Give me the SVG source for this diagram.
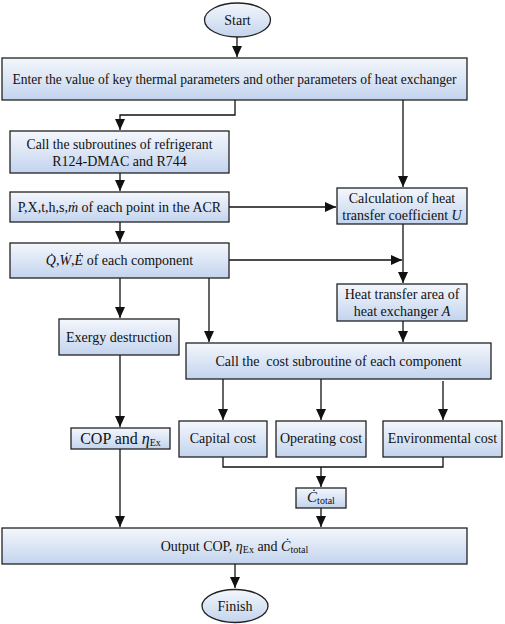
<svg xmlns="http://www.w3.org/2000/svg" width="505" height="624" viewBox="0 0 505 624">
<defs>
<linearGradient id="g" x1="0" y1="0" x2="0" y2="1">
<stop offset="0" stop-color="#f4f7fc"/>
<stop offset="1" stop-color="#c3d4ee"/>
</linearGradient>
<marker id="a" markerWidth="12" markerHeight="12" refX="11" refY="6" orient="auto" markerUnits="userSpaceOnUse">
<path d="M0,1 L11,6 L0,11 Z" fill="#111"/>
</marker>
</defs>
<style>
.n{fill:url(#g);stroke:#222;stroke-width:1.3}
.t{font-family:"Liberation Serif","Times New Roman",serif;font-size:14px;fill:#111;text-anchor:middle}
.i{font-style:italic}
.s{font-size:10px}
.c{fill:none;stroke:#111;stroke-width:1.3}
</style>
<rect width="505" height="624" fill="#fff"/>
<g id="connectors">
<path class="c" d="M237,37 V57" marker-end="url(#a)"/>
<path class="c" d="M235,100 V115 H120 V130" marker-end="url(#a)"/>
<path class="c" d="M403,100 V187" marker-end="url(#a)"/>
<path class="c" d="M120,173 V191" marker-end="url(#a)"/>
<path class="c" d="M229,207 H336" marker-end="url(#a)"/>
<path class="c" d="M120,222 V242" marker-end="url(#a)"/>
<path class="c" d="M229,260 H402" marker-end="url(#a)"/>
<path class="c" d="M403,224 V283" marker-end="url(#a)"/>
<path class="c" d="M120,278 V318" marker-end="url(#a)"/>
<path class="c" d="M209,278 V342" marker-end="url(#a)"/>
<path class="c" d="M403,321 V342" marker-end="url(#a)"/>
<path class="c" d="M223,379 V420" marker-end="url(#a)"/>
<path class="c" d="M321,379 V420" marker-end="url(#a)"/>
<path class="c" d="M443,381 V420" marker-end="url(#a)"/>
<path class="c" d="M120,355 V427" marker-end="url(#a)"/>
<path class="c" d="M120,449 V527" marker-end="url(#a)"/>
<path class="c" d="M223,457 V467 H443 V457 M321,467 V487" marker-end="url(#a)"/>
<path class="c" d="M321,508 V527" marker-end="url(#a)"/>
<path class="c" d="M235,564 V588" marker-end="url(#a)"/>
</g>
<g id="start">
<ellipse class="n" cx="237.5" cy="20" rx="33" ry="17"/>
<text class="t" x="237.5" y="25">Start</text>
</g>
<g id="enter">
<rect class="n" x="2" y="58" width="465" height="42"/>
<text class="t" x="234.5" y="84" textLength="444" lengthAdjust="spacingAndGlyphs">Enter the value of key thermal parameters and other parameters of heat exchanger</text>
</g>
<g id="subroutines">
<rect class="n" x="10" y="131" width="219" height="42"/>
<text class="t" x="119.5" y="149" textLength="186" lengthAdjust="spacingAndGlyphs">Call the subroutines of refrigerant</text>
<text class="t" x="119.5" y="166">R124-DMAC and R744</text>
</g>
<g id="points">
<rect class="n" x="10" y="192" width="219" height="30"/>
<text class="t" x="119.5" y="212">P,X,t,h,s,<tspan class="i">ṁ</tspan> of each point in the ACR</text>
</g>
<g id="calcU">
<rect class="n" x="337" y="188" width="130" height="36"/>
<text class="t" x="402" y="203">Calculation of heat</text>
<text class="t" x="402" y="220">transfer coefficient <tspan class="i">U</tspan></text>
</g>
<g id="qwe">
<rect class="n" x="10" y="243" width="219" height="35"/>
<text class="t" x="119.5" y="265"><tspan class="i">Q̇</tspan>,<tspan class="i">Ẇ</tspan>,<tspan class="i">Ė</tspan> of each component</text>
</g>
<g id="area">
<rect class="n" x="337" y="284" width="130" height="37"/>
<text class="t" x="402" y="299">Heat transfer area of</text>
<text class="t" x="402" y="316">heat exchanger <tspan class="i">A</tspan></text>
</g>
<g id="exergy">
<rect class="n" x="59" y="319" width="120" height="36"/>
<text class="t" x="119" y="342">Exergy destruction</text>
</g>
<g id="cost">
<rect class="n" x="186" y="343" width="305" height="36"/>
<text class="t" x="338.5" y="366">Call the&#160; cost subroutine of each component</text>
</g>
<g id="cop">
<rect class="n" x="71" y="428" width="99" height="21"/>
<text class="t" x="120.5" y="444" style="font-size:16px">COP and <tspan class="i">η</tspan><tspan class="s" dy="2">Ex</tspan></text>
</g>
<g id="capital">
<rect class="n" x="179" y="421" width="88" height="36"/>
<text class="t" x="223" y="443">Capital cost</text>
</g>
<g id="operating">
<rect class="n" x="276" y="421" width="90" height="36"/>
<text class="t" x="321" y="443">Operating cost</text>
</g>
<g id="environmental">
<rect class="n" x="383" y="421" width="119" height="36"/>
<text class="t" x="442.5" y="443">Environmental cost</text>
</g>
<g id="ctotal">
<rect class="n" x="296" y="488" width="50" height="20"/>
<text class="t" x="321" y="502" style="font-size:15px"><tspan class="i">Ċ</tspan><tspan class="s" dy="2">total</tspan></text>
</g>
<g id="output">
<rect class="n" x="2" y="528" width="465" height="36"/>
<text class="t" x="234.5" y="551">Output COP, <tspan class="i">η</tspan><tspan class="s" dy="2">Ex</tspan><tspan dy="-2"> and </tspan><tspan class="i">Ċ</tspan><tspan class="s" dy="2">total</tspan></text>
</g>
<g id="finish">
<ellipse class="n" cx="235" cy="606" rx="33" ry="16.5"/>
<text class="t" x="235" y="611">Finish</text>
</g>
</svg>
